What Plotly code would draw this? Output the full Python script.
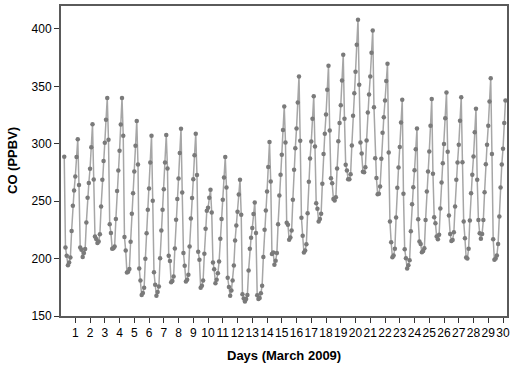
import numpy as np
import plotly.graph_objects as go

# CO readings (ppbv), 12 two-hourly readings per daily cycle
day01 = [288.7, 209.7, 202.4, 194.3, 196.6, 201.0, 224.0, 246.0, 259.3, 271.5, 288.4, 304.0]
day02 = [264.0, 209.7, 207.7, 201.3, 204.8, 208.3, 231.4, 253.0, 265.8, 278.2, 297.0, 317.0]
day03 = [268.9, 219.3, 217.0, 213.5, 214.9, 221.3, 245.4, 268.6, 285.0, 301.0, 320.9, 339.8]
day04 = [303.5, 230.0, 222.2, 208.5, 209.1, 210.5, 234.4, 258.8, 276.7, 293.9, 316.8, 339.8]
day05 = [307.0, 218.7, 207.0, 187.9, 188.5, 190.9, 214.6, 239.0, 257.0, 275.9, 298.3, 319.8]
day06 = [282.0, 191.4, 181.0, 168.2, 170.0, 174.6, 199.8, 222.0, 242.5, 261.0, 283.8, 307.0]
day07 = [250.4, 188.2, 177.2, 167.6, 170.8, 175.7, 200.4, 224.5, 242.5, 260.5, 283.8, 307.6]
day08 = [278.5, 202.4, 197.8, 179.5, 180.4, 184.5, 208.8, 233.8, 251.8, 269.8, 291.9, 313.1]
day09 = [257.6, 204.8, 193.7, 180.1, 181.5, 185.9, 210.6, 235.0, 252.7, 269.2, 290.1, 308.7]
day10 = [272.7, 205.9, 199.0, 174.6, 176.3, 181.0, 204.2, 226.0, 241.7, 244.3, 253.0, 260.0]
day11 = [240.2, 196.6, 190.8, 178.6, 181.5, 187.3, 197.5, 217.3, 234.4, 251.2, 270.7, 288.4]
day12 = [262.0, 183.3, 175.2, 167.6, 172.2, 181.0, 194.0, 215.8, 228.9, 240.8, 255.9, 268.7]
day13 = [238.2, 169.0, 165.3, 162.7, 164.7, 168.2, 189.7, 208.5, 218.1, 226.6, 238.8, 248.9]
day14 = [222.2, 168.0, 164.7, 165.6, 169.9, 176.3, 201.3, 225.1, 241.9, 258.5, 279.7, 301.5]
day15 = [267.2, 203.9, 205.3, 194.6, 198.1, 204.8, 230.0, 255.0, 273.0, 290.4, 311.9, 332.5]
day16 = [301.2, 231.2, 229.5, 216.4, 218.4, 224.5, 251.2, 277.4, 296.2, 313.4, 336.0, 358.7]
day17 = [302.6, 235.5, 219.9, 205.3, 207.1, 212.6, 239.6, 266.9, 287.2, 302.0, 321.8, 341.3]
day18 = [297.7, 248.3, 243.4, 232.4, 234.4, 239.0, 265.2, 291.0, 308.7, 325.5, 347.0, 367.9]
day19 = [311.6, 270.0, 265.7, 251.8, 250.6, 253.5, 278.5, 302.3, 318.0, 333.6, 355.1, 377.5]
day20 = [321.7, 281.7, 276.7, 269.2, 269.2, 273.5, 298.5, 324.4, 344.1, 362.7, 386.2, 408.0]
day21 = [351.4, 301.1, 291.5, 275.6, 275.3, 279.6, 302.9, 327.3, 342.9, 358.6, 379.2, 398.7]
day22 = [331.9, 287.5, 270.1, 256.1, 256.4, 262.8, 286.9, 309.5, 323.2, 337.7, 354.6, 369.7]
day23 = [292.4, 232.3, 214.3, 201.2, 202.7, 208.5, 235.8, 261.6, 279.3, 297.1, 318.5, 338.3]
day24 = [256.4, 208.2, 200.4, 191.4, 194.3, 198.6, 223.9, 247.4, 262.2, 277.0, 295.3, 313.3]
day25 = [234.3, 214.9, 212.8, 205.6, 206.7, 209.0, 233.7, 258.4, 275.8, 293.3, 315.6, 338.9]
day26 = [273.8, 236.1, 230.8, 219.2, 216.9, 220.7, 243.6, 266.3, 283.1, 299.9, 322.3, 344.7]
day27 = [293.0, 237.5, 221.5, 215.4, 216.3, 223.0, 245.4, 268.6, 283.7, 299.1, 320.0, 340.6]
day28 = [284.0, 232.3, 217.8, 200.9, 200.0, 208.5, 233.2, 257.0, 273.0, 288.9, 310.1, 330.4]
day29 = [268.6, 233.7, 222.1, 217.2, 221.5, 233.7, 257.8, 282.2, 299.1, 315.6, 336.8, 357.0]
day30 = [291.0, 216.9, 198.9, 200.0, 202.7, 212.8, 236.6, 261.9, 281.9, 295.6, 318.0, 337.7]

co_values = (day01 + day02 + day03 + day04 + day05 + day06 + day07 + day08 + day09 + day10
             + day11 + day12 + day13 + day14 + day15 + day16 + day17 + day18 + day19 + day20
             + day21 + day22 + day23 + day24 + day25 + day26 + day27 + day28 + day29 + day30)

# time axis: two-hourly sampling, in days of March 2009
start_day = 0.25
step_day = 1.0 / 12.0
times = [start_day + i * step_day for i in range(len(co_values))]

x_ticks = list(range(1, 31))
x_tick_labels = [str(d) for d in x_ticks]
y_ticks = [150, 200, 250, 300, 350, 400]
x_title = "Days (March 2009)"
y_title = "CO (PPBV)"

fig = go.Figure()
fig.add_trace(go.Scatter(
    x=times, y=co_values, mode="lines+markers",
    line=dict(color="#a6a6a6", width=1.5),
    marker=dict(color="#7a7a7a", size=4.5),
    showlegend=False, cliponaxis=False,
))

axis_col = "#5a5a5a"
fig.update_layout(
    width=514, height=369,
    margin=dict(l=61, r=7, t=6, b=53, autoexpand=False),
    paper_bgcolor="white", plot_bgcolor="white",
    font=dict(family="Liberation Sans, Arial, sans-serif", size=12, color="black"),
)
fig.update_xaxes(
    range=[0.03, 30.27], tickmode="array", tickvals=x_ticks, ticktext=x_tick_labels,
    tickangle=0, automargin=False,
    ticks="outside", ticklen=5, tickwidth=1.2, tickcolor="#333333",
    showline=True, linecolor=axis_col, linewidth=1.5, mirror=True,
    showgrid=False, zeroline=False, tickfont=dict(size=12),
)
fig.update_yaxes(
    range=[150, 420], tickmode="array", tickvals=y_ticks, automargin=False,
    ticks="outside", ticklen=5, tickwidth=1.2, tickcolor="#333333",
    showline=True, linecolor=axis_col, linewidth=2, mirror=True,
    showgrid=False, zeroline=False, tickfont=dict(size=12),
)
fig.add_annotation(
    text="<b>" + x_title + "</b>", xref="paper", yref="paper", x=0.5, y=0,
    yshift=-39, yanchor="middle", xanchor="center", showarrow=False,
    font=dict(size=13),
)
fig.add_annotation(
    text="<b>" + y_title + "</b>", xref="paper", yref="paper", x=0, y=0.5,
    xshift=-49, xanchor="center", yanchor="middle", textangle=-90, showarrow=False,
    font=dict(size=13),
)

fig.write_html(
    "out.html",
    config={"displayModeBar": False},
    post_script="document.body.style.margin='0';document.body.style.padding='0';",
)
